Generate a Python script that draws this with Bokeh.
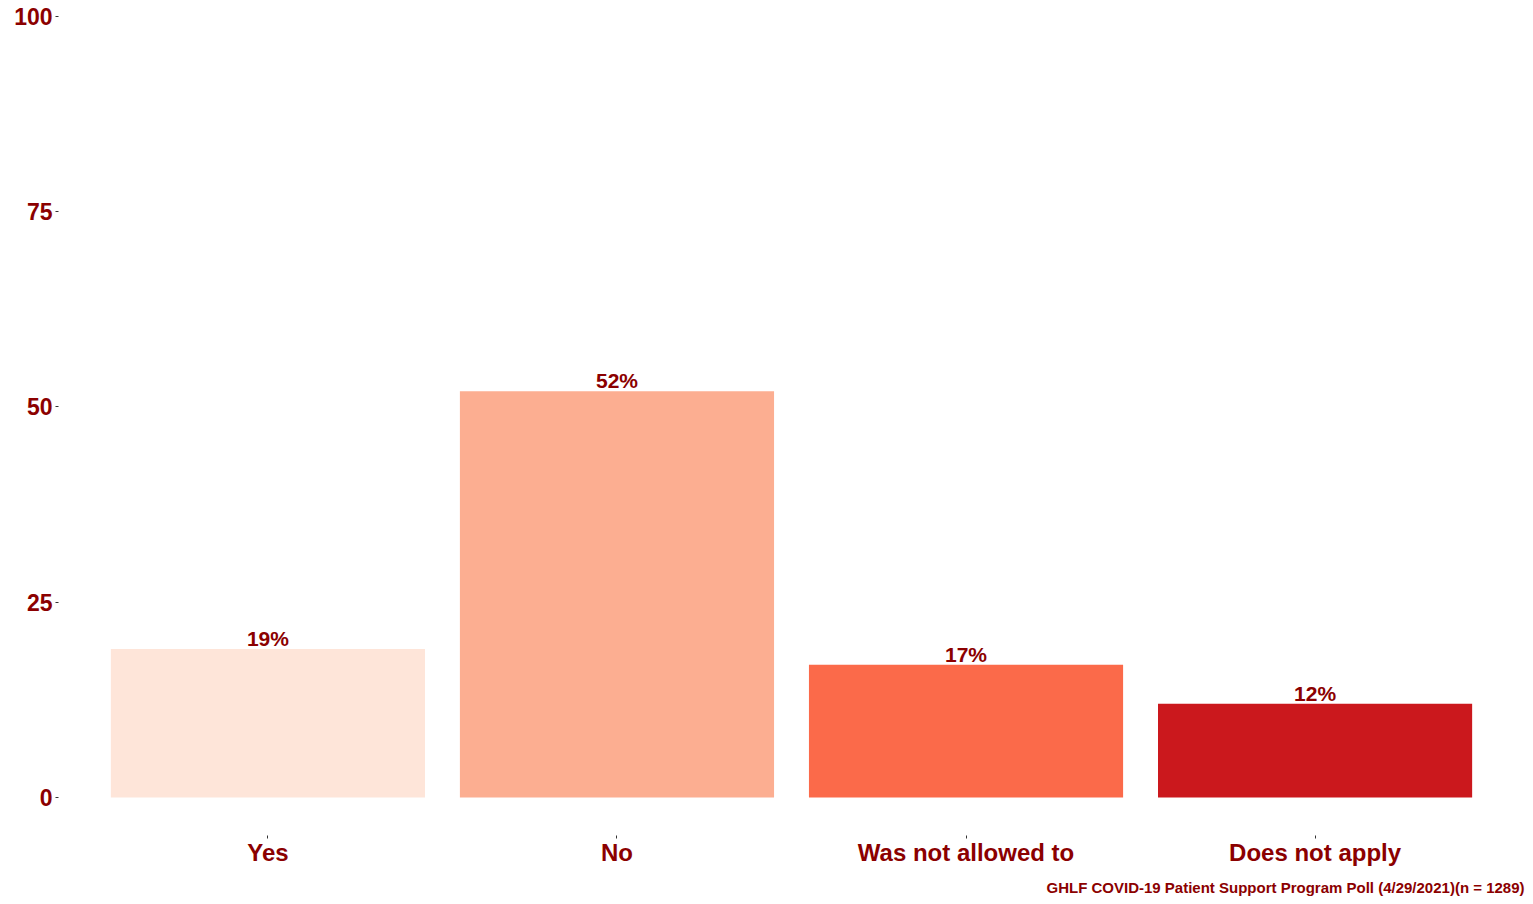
from bokeh.plotting import figure
from bokeh.models import ColumnDataSource, Range1d, FixedTicker, Title
from bokeh.core.properties import value
from bokeh.embed import file_html
from bokeh.resources import INLINE

categories = ["Yes", "No", "Was not allowed to", "Does not apply"]
percents = [19, 52, 17, 12]
colors = ["#fee5d9", "#fcae91", "#fb6a4a", "#cb181d"]
y_ticks = [0, 25, 50, 75, 100]
caption = "GHLF COVID-19 Patient Support Program Poll (4/29/2021)(n = 1289)"

FONT = "Liberation Sans"
DARK = "#8b0000"

xs = list(range(1, len(categories) + 1))
src = ColumnDataSource(dict(
    x=xs, top=percents, color=colors,
    label=[f"{v}%" for v in percents],
))

p = figure(frame_width=1466, frame_height=827, output_backend="svg", toolbar_location=None,
           x_range=Range1d(0.4, 4.6), y_range=Range1d(-4.87, 101.0),
           min_border_left=58, min_border_right=1, min_border_top=8, min_border_bottom=0)
p.outline_line_color = None
p.background_fill_color = "white"
p.border_fill_color = "white"
p.grid.visible = False

p.vbar(x="x", top="top", bottom=0, width=0.9, color="color", source=src, line_color=None)
p.text(x="x", y="top", text="label", source=src, text_align="center",
       text_baseline="bottom", y_offset=1, text_color=DARK,
       text_font=value(FONT), text_font_style="bold", text_font_size="21px")

for ax in (p.xaxis[0], p.yaxis[0]):
    ax.axis_line_color = None
    ax.major_tick_in = 0
    ax.major_tick_out = 3
    ax.major_tick_line_color = "#333333"
    ax.major_tick_line_width = 1
    ax.minor_tick_line_color = None
    ax.major_label_text_color = DARK
    ax.major_label_text_font = FONT
    ax.major_label_text_font_style = "bold"

p.xaxis.ticker = FixedTicker(ticks=xs)
p.xaxis.major_label_overrides = {i: c for i, c in zip(xs, categories)}
p.xaxis.major_label_text_font_size = "24px"
p.xaxis.major_label_standoff = 0

p.yaxis.ticker = FixedTicker(ticks=y_ticks)
p.yaxis.major_label_text_font_size = "23px"
p.yaxis.major_label_standoff = 3

t = Title(text=caption, align="right", text_color=DARK, text_font=FONT,
          text_font_style="bold", text_font_size="15px", standoff=16)
p.add_layout(t, "below")

open("out.html", "w").write(file_html(p, INLINE))
